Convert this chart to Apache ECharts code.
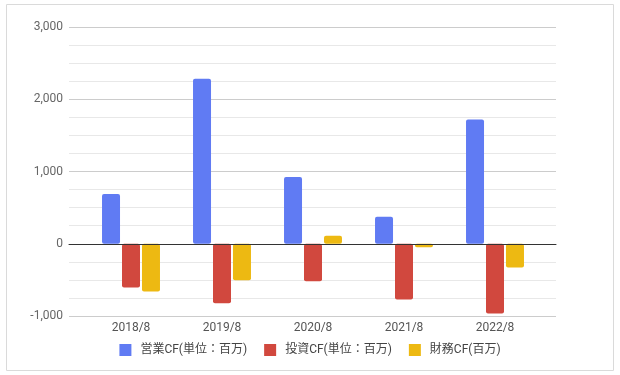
<!DOCTYPE html>
<html><head><meta charset="utf-8">
<script src="https://cdn.jsdelivr.net/npm/echarts@6/dist/echarts.min.js"></script>
<style>html,body{margin:0;padding:0;background:#fff}#c{width:620px;height:375px}</style>
</head><body><div id="c"></div>
<script>
const categories = ['2018/8','2019/8','2020/8','2021/8','2022/8'];
const seriesNames = ['営業CF(単位：百万)','投資CF(単位：百万)','財務CF(百万)'];
const operating = [690, 2285, 925, 375, 1720];
const investing = [-605, -825, -520, -770, -965];
const financing = [-660, -505, 110, -50, -330];
const yMin = -1000, yMax = 3000, yStep = 1000;
const colors = ['#607bf3','#d1483e','#edb912'];

const chart = echarts.init(document.getElementById('c'), null, {renderer:'canvas'});
const font = 'Roboto, "Noto Sans CJK JP", sans-serif';
const mk = (name, data, i) => ({
  name, type:'bar', data, xAxisIndex:1, yAxisIndex:1,
  barWidth:18, barGap:'11%',
  itemStyle:{color:colors[i], borderRadius:2}
});
chart.setOption({
  animation:false,
  textStyle:{fontFamily:font},
  color:colors,
  graphic:[{type:'rect', shape:{x:6.5,y:4.5,width:607,height:366}, style:{fill:null, stroke:'#dadada', lineWidth:1}, z:-1}],
  grid:[
    {left:69, right:64, top:27, height:289},
    {left:85.5, right:79.5, top:27, height:289}
  ],
  legend:{
    data:seriesNames, bottom:14, left:'center', itemWidth:12, itemHeight:12, itemGap:17,
    icon:'rect',
    textStyle:{color:'#444', fontSize:12, fontFamily:font, padding:[0,0,0,4]}
  },
  xAxis:[
    {type:'category', gridIndex:0, data:categories,
     axisLine:{show:true, onZero:true, lineStyle:{color:'#333', width:1}},
     axisTick:{show:false}, axisLabel:{show:false}, splitLine:{show:false}, z:5},
    {type:'category', gridIndex:1, data:categories, position:'bottom',
     axisLine:{show:false, onZero:false}, axisTick:{show:false},
     axisLabel:{color:'#555', fontSize:12, margin:6},
     splitLine:{show:false}}
  ],
  yAxis:[
    {type:'value', gridIndex:0, min:yMin, max:yMax, interval:yStep,
     axisLine:{show:false}, axisTick:{show:false},
     axisLabel:{color:'#666', fontSize:12, margin:6, formatter:v=>v.toLocaleString('en-US')},
     splitLine:{lineStyle:{color:'#cccccc'}},
     minorTick:{show:false, splitNumber:4},
     minorSplitLine:{show:true, lineStyle:{color:'#e8e8e8'}}},
    {type:'value', gridIndex:1, min:yMin, max:yMax, interval:yStep, show:false, splitLine:{show:false}}
  ],
  series:[mk(seriesNames[0], operating, 0), mk(seriesNames[1], investing, 1), mk(seriesNames[2], financing, 2)]
});
</script></body></html>
